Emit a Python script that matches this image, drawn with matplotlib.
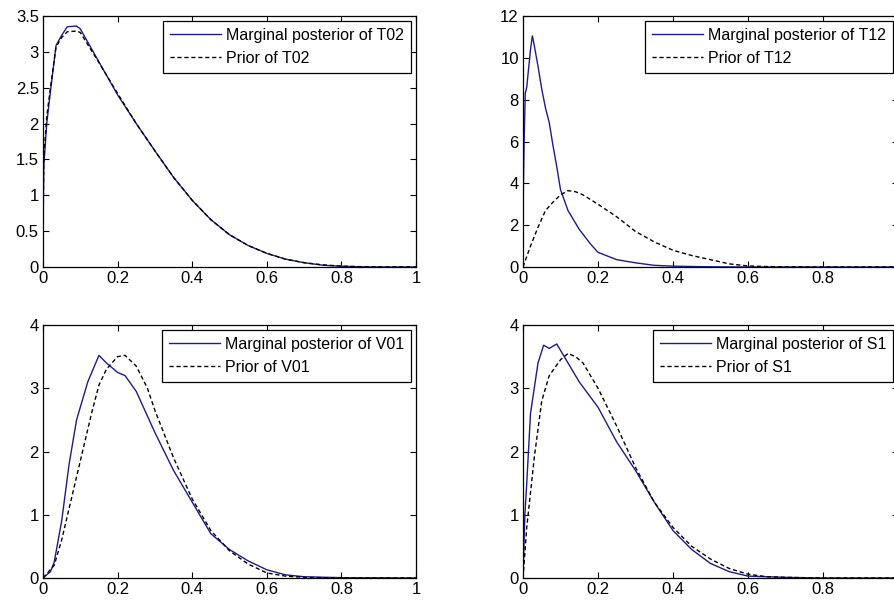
import matplotlib
matplotlib.use('Agg')
import matplotlib.pyplot as plt

plt.rcParams['font.family'] = ['Liberation Sans', 'DejaVu Sans']
plt.rcParams['font.size'] = 11

# T02
t02_x = [0, 0.002, 0.01, 0.02, 0.035, 0.05, 0.065, 0.09, 0.1, 0.15, 0.2, 0.25, 0.3, 0.35,
         0.4, 0.45, 0.5, 0.55, 0.6, 0.65, 0.7, 0.75, 0.8, 0.85, 0.9, 1.0]
t02_post = [0.4, 1.4, 2.0, 2.45, 3.09, 3.23, 3.35, 3.36, 3.32, 2.86, 2.4, 2.0, 1.62, 1.25,
            0.93, 0.66, 0.45, 0.3, 0.19, 0.11, 0.06, 0.025, 0.01, 0.003, 0.0, 0.0]
t02_prior = [0.4, 1.5, 2.1, 2.5, 3.07, 3.2, 3.28, 3.29, 3.27, 2.85, 2.42, 2.0, 1.62, 1.25,
             0.93, 0.66, 0.45, 0.3, 0.19, 0.11, 0.06, 0.03, 0.012, 0.005, 0.002, 0.0]

# T12
t12_x = [0, 0.003, 0.006, 0.01, 0.02, 0.025, 0.03, 0.04, 0.05, 0.06, 0.07, 0.08, 0.09, 0.1,
         0.12, 0.15, 0.18, 0.2, 0.25, 0.3, 0.35, 0.4, 0.5, 0.6, 0.7, 0.8, 1.0]
t12_post = [2.5, 6.0, 8.3, 8.6, 10.4, 11.05, 10.6, 9.6, 8.5, 7.6, 6.9, 5.8, 4.8, 3.7,
            2.7, 1.8, 1.1, 0.7, 0.35, 0.2, 0.08, 0.04, 0.01, 0.0, 0.0, 0.0, 0.0]
t12_prior_x = [0, 0.02, 0.04, 0.06, 0.08, 0.1, 0.12, 0.14, 0.16, 0.2, 0.25, 0.3, 0.35, 0.4,
               0.45, 0.5, 0.55, 0.6, 0.65, 0.7, 0.8, 1.0]
t12_prior = [0, 1.0, 1.9, 2.7, 3.1, 3.45, 3.65, 3.6, 3.45, 3.0, 2.4, 1.7, 1.2, 0.8,
             0.55, 0.35, 0.15, 0.05, 0.02, 0.01, 0.0, 0.0]

# V01
v01_x = [0, 0.02, 0.03, 0.05, 0.07, 0.09, 0.1, 0.12, 0.15, 0.17, 0.2, 0.22, 0.25, 0.3,
         0.35, 0.4, 0.45, 0.5, 0.55, 0.6, 0.65, 0.7, 0.8, 1.0]
v01_post = [0, 0.1, 0.25, 0.9, 1.8, 2.5, 2.7, 3.1, 3.52, 3.4, 3.25, 3.2, 2.95, 2.3,
            1.7, 1.2, 0.7, 0.45, 0.27, 0.13, 0.05, 0.02, 0.005, 0.0]
v01_prior_x = [0, 0.03, 0.05, 0.07, 0.1, 0.13, 0.15, 0.17, 0.2, 0.22, 0.25, 0.28, 0.3,
               0.35, 0.4, 0.45, 0.5, 0.55, 0.6, 0.65, 0.7, 0.8, 1.0]
v01_prior = [0, 0.2, 0.6, 1.1, 1.85, 2.6, 3.05, 3.3, 3.5, 3.52, 3.35, 3.0, 2.65,
             1.9, 1.25, 0.75, 0.43, 0.22, 0.08, 0.03, 0.01, 0.0, 0.0]

# S1
s1_x = [0, 0.005, 0.01, 0.02, 0.04, 0.055, 0.07, 0.09, 0.11, 0.15, 0.2, 0.25, 0.3, 0.35,
        0.4, 0.45, 0.5, 0.55, 0.6, 0.7, 0.8, 1.0]
s1_post = [0, 1.0, 1.5, 2.6, 3.4, 3.68, 3.63, 3.7, 3.5, 3.1, 2.7, 2.15, 1.7, 1.2,
           0.75, 0.45, 0.23, 0.1, 0.03, 0.01, 0.0, 0.0]
s1_prior_x = [0, 0.01, 0.03, 0.05, 0.07, 0.1, 0.12, 0.14, 0.16, 0.2, 0.25, 0.3, 0.35, 0.4,
              0.45, 0.5, 0.55, 0.6, 0.65, 0.7, 0.8, 1.0]
s1_prior = [0, 0.8, 1.9, 2.8, 3.2, 3.45, 3.55, 3.5, 3.4, 3.0, 2.4, 1.75, 1.2, 0.8,
            0.5, 0.3, 0.15, 0.06, 0.02, 0.01, 0.0, 0.0]

panels = [
    ('T02', t02_x, t02_post, t02_x, t02_prior, (0, 3.5), [0, 0.5, 1, 1.5, 2, 2.5, 3, 3.5]),
    ('T12', t12_x, t12_post, t12_prior_x, t12_prior, (0, 12), [0, 2, 4, 6, 8, 10, 12]),
    ('V01', v01_x, v01_post, v01_prior_x, v01_prior, (0, 4), [0, 1, 2, 3, 4]),
    ('S1', s1_x, s1_post, s1_prior_x, s1_prior, (0, 4), [0, 1, 2, 3, 4]),
]

W, H = 895.0, 605.0
# axes boxes in pixels: left, top, width, height
boxes = [(43, 16, 373, 251), (523, 16, 375, 251), (43, 325, 373, 253), (523, 325, 375, 253)]

fig = plt.figure(figsize=(W / 100, H / 100), dpi=100)

for (name, px, py, qx, qy, ylim, yticks), (l, t, w, h) in zip(panels, boxes):
    ax = fig.add_axes([l / W, (H - t - h) / H, w / W, h / H])
    ax.plot(px, py, '-', color='#1c1c8c', lw=1.0, label='Marginal posterior of ' + name)
    ax.plot(qx, qy, '--', color='black', lw=1.0, dashes=(3, 2), label='Prior of ' + name)
    ax.set_xlim(0, 1)
    ax.set_ylim(*ylim)
    ax.set_xticks([0, 0.2, 0.4, 0.6, 0.8, 1])
    ax.set_xticklabels(['0', '0.2', '0.4', '0.6', '0.8', '1'])
    ax.set_yticks(yticks)
    ax.set_yticklabels([('%g' % v) for v in yticks])
    ax.tick_params(direction='in', top=True, right=True, length=4, width=0.8,
                   labelsize=12, colors='black', pad=3)
    for sp in ax.spines.values():
        sp.set_linewidth(0.9)
    leg = ax.legend(loc='upper right', fancybox=False, framealpha=1, edgecolor='black',
                    handlelength=3.2, labelspacing=0.5, borderaxespad=0.3,
                    handletextpad=0.3, borderpad=0.45, fontsize=11.5)
    leg.get_frame().set_linewidth(0.9)

fig.savefig('out.png', dpi=100)
